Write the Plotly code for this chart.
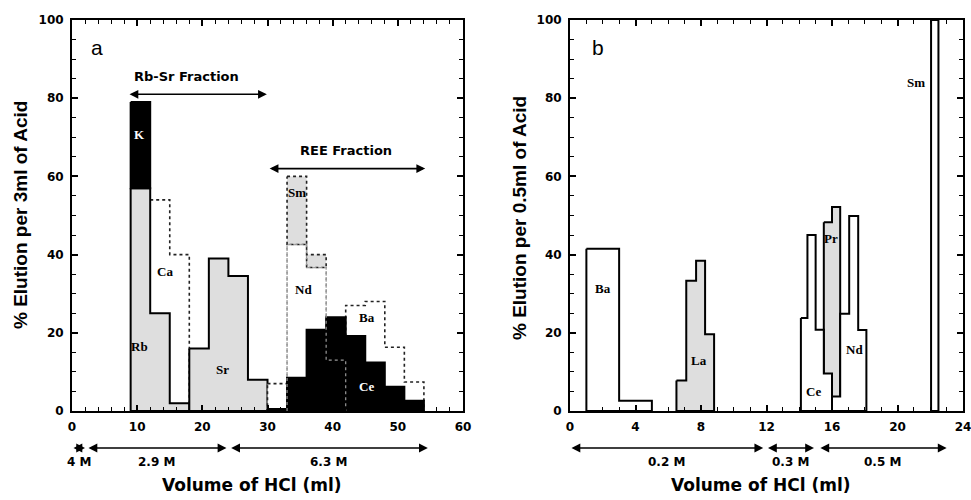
import plotly.graph_objects as go

# ---------------- Panel a: 3 ml fractions ----------------
a_rb_edges = [9, 12, 15, 18]
a_rb_vals = [57, 25, 2]
a_k_edges = [9, 12]
a_k_vals = [22]                 # stacked on Rb
a_ca_edges = [12, 15, 18]
a_ca_vals = [54, 40]
a_sr_edges = [18, 21, 24, 27, 30]
a_sr_vals = [16, 39, 34.5, 8]
a_ba_edges = [30, 33, 36, 39, 42, 45, 48, 51, 54]
a_ba_vals = [7, 0, 0, 0, 27, 28, 16.3, 7.4]
a_nd_edges = [33, 36, 39, 42]
a_nd_vals = [42.6, 36.7, 13]
a_sm_edges = [33, 36, 39]
a_sm_vals = [17.4, 3.3]         # stacked on Nd
a_ce_edges = [30, 33, 36, 39, 42, 45, 48, 51, 54]
a_ce_vals = [0.5, 8.5, 20.8, 24, 19.2, 12.4, 6.2, 2.6]

# ---------------- Panel b: 0.5 ml fractions ----------------
b_ba_edges = [1, 3, 5]
b_ba_vals = [41.5, 2.6]
b_la_edges = [6.5, 7.1, 7.7, 8.25, 8.8]
b_la_vals = [7.8, 33.3, 38.4, 19.6]
b_pr_edges = [15.5, 16.0, 16.5]
b_pr_vals = [48.3, 52.2]
b_ce_edges = [14.1, 14.5, 15.0, 15.5, 16.0]
b_ce_vals = [23.8, 45, 20.8, 9.6]
b_nd_edges = [16.0, 16.5, 17.05, 17.6, 18.1]
b_nd_vals = [3.7, 24.9, 49.9, 20.7]
b_sm_edges = [22.05, 22.5]
b_sm_vals = [100]

# acid steps below each axis: (start, end, label)
a_acids = [(0, 2, "4 M"), (2.3, 23.7, "2.9 M"), (24.2, 54.6, "6.3 M")]
b_acids = [(0, 11.8, "0.2 M"), (12.0, 14.9, "0.3 M"), (15.2, 23.0, "0.5 M")]

GRAY = "#dedede"
SANS = "DejaVu Sans"
ARIAL = "Liberation Sans, Arial"


def step_poly(edges, vals, base=None):
    if base is None:
        base = [0] * len(vals)
    tops = [b + v for b, v in zip(base, vals)]
    xs, ys = [], []
    for i, t in enumerate(tops):
        xs += [edges[i], edges[i + 1]]
        ys += [t, t]
    for i in reversed(range(len(base))):
        xs += [edges[i + 1], edges[i]]
        ys += [base[i], base[i]]
    xs.append(xs[0])
    ys.append(ys[0])
    return xs, ys


def step_outline(edges, vals):
    xs, ys = [edges[0]], [0]
    for i, v in enumerate(vals):
        xs += [edges[i], edges[i + 1]]
        ys += [v, v]
    xs.append(edges[-1])
    ys.append(0)
    return xs, ys


fig = go.Figure()


def add_hist(edges, vals, fill, line_color, dash="solid", width=2, base=None, xa="x", ya="y"):
    xs, ys = step_poly(edges, vals, base)
    fig.add_trace(go.Scatter(
        x=xs, y=ys, mode="lines", fill="toself", fillcolor=fill,
        line=dict(color=line_color, width=width, dash=dash),
        xaxis=xa, yaxis=ya, showlegend=False, hoverinfo="skip"))


# panel a
add_hist(a_ca_edges, a_ca_vals, "white", "#222", dash="dot", width=1.6)
add_hist(a_rb_edges, a_rb_vals, GRAY, "black")
add_hist(a_k_edges, a_k_vals, "black", "black", base=[a_rb_vals[0]])
add_hist(a_sr_edges, a_sr_vals, GRAY, "black")
add_hist(a_ba_edges, a_ba_vals, "white", "#222", dash="dot", width=1.6)
add_hist(a_nd_edges, a_nd_vals, "white", "#888", dash="dot", width=1.4)
add_hist(a_sm_edges, a_sm_vals, GRAY, "#222", dash="dot", width=1.6, base=a_nd_vals[:2])
add_hist(a_ce_edges, a_ce_vals, "black", "black")
nx, ny = step_outline(a_nd_edges, a_nd_vals)
fig.add_trace(go.Scatter(x=nx, y=ny, mode="lines", line=dict(color="#999", width=1.2, dash="dot"),
                         showlegend=False, hoverinfo="skip"))

# panel b
add_hist(b_ba_edges, b_ba_vals, "white", "black", xa="x2", ya="y2")
add_hist(b_la_edges, b_la_vals, GRAY, "black", xa="x2", ya="y2")
add_hist(b_pr_edges, b_pr_vals, GRAY, "black", xa="x2", ya="y2")
add_hist(b_ce_edges, b_ce_vals, "white", "black", xa="x2", ya="y2")
add_hist(b_nd_edges, b_nd_vals, "white", "black", xa="x2", ya="y2")
add_hist(b_sm_edges, b_sm_vals, "white", "black", xa="x2", ya="y2")

W, H = 971, 500
ydom = [(500 - 411) / H, (500 - 20) / H]
tickfont = dict(family=SANS, size=12, color="black", weight="bold")


def axis_common(**kw):
    d = dict(showline=True, linecolor="black", linewidth=2, mirror="allticks",
             ticks="inside", ticklen=6, tickwidth=1.5, tickcolor="black",
             showgrid=False, zeroline=False, tickfont=tickfont, automargin=False,
             ticklabelstandoff=4, ticklabeloverflow="allow")
    d.update(kw)
    return d


def minor(step):
    return dict(ticks="inside", dtick=step, ticklen=4, tickcolor="black", tickwidth=1.2)


fig.update_layout(
    width=W, height=H, margin=dict(l=0, r=0, t=0, b=0),
    paper_bgcolor="white", plot_bgcolor="white", showlegend=False,
    xaxis=axis_common(domain=[72 / W, 463 / W], range=[0, 60], dtick=10, tick0=0, minor=minor(2)),
    yaxis=axis_common(domain=ydom, range=[0, 100], dtick=20, tick0=0, minor=minor(5)),
    xaxis2=axis_common(domain=[570 / W, 963 / W], range=[0, 24], dtick=4, tick0=0, anchor="y2",
                       minor=minor(1)),
    yaxis2=axis_common(domain=ydom, range=[0, 100], dtick=20, tick0=0, anchor="x2", minor=minor(5)),
)

serif = dict(family="Liberation Serif, Times New Roman", size=13, color="black", weight="bold")
serif_w = dict(serif, color="white")
labels_a = [("K", 10.4, 70.8, serif_w), ("Rb", 10.3, 16.5, serif), ("Ca", 14.3, 35.7, serif),
            ("Sr", 23.1, 10.5, serif), ("Sm", 34.6, 55.8, serif), ("Nd", 35.5, 31, serif),
            ("Ba", 45.2, 23.8, serif), ("Ce", 45.2, 6.2, serif_w)]
labels_b = [("Ba", 2.0, 31.3), ("La", 7.9, 13), ("Ce", 14.85, 5), ("Pr", 15.95, 44),
            ("Nd", 17.4, 15.8), ("Sm", 21.1, 84)]

C = dict(xanchor="center", yanchor="middle", showarrow=False)
ann = []
for t, x, y, f in labels_a:
    ann.append(dict(text=t, x=x, y=y, xref="x", yref="y", font=f, **C))
for t, x, y in labels_b:
    ann.append(dict(text=t, x=x, y=y, xref="x2", yref="y2", font=serif, **C))

ann.append(dict(text="a", x=3.8, y=93, xref="x", yref="y",
                font=dict(family=ARIAL, size=21, color="black"), **C))
ann.append(dict(text="b", x=1.7, y=93, xref="x2", yref="y2",
                font=dict(family=ARIAL, size=21, color="black"), **C))

sans_b = dict(family=SANS, color="black", weight="bold")


def double_arrow(x0, x1, y, xref, yref, ayref):
    return dict(text="", x=x1, y=y, ax=x0, ay=y if ayref != "pixel" else 0, xref=xref, yref=yref,
                axref=xref, ayref=ayref, showarrow=True, arrowhead=2, startarrowhead=2,
                arrowside="end+start", arrowsize=1.1, startarrowsize=1.1, arrowwidth=1.6,
                arrowcolor="black", standoff=0, startstandoff=0)


# fraction arrows inside panel a
ann.append(double_arrow(8.6, 29.9, 81, "x", "y", "y"))
ann.append(dict(text="Rb-Sr Fraction", x=17.6, y=85.5, xref="x", yref="y",
                font=dict(sans_b, size=13), **C))
ann.append(double_arrow(30.1, 54.2, 62, "x", "y", "y"))
ann.append(dict(text="REE Fraction", x=42.1, y=66.5, xref="x", yref="y",
                font=dict(sans_b, size=13), **C))

# acid molarity arrows below the axes
y_arrow = (500 - 448) / H
y_mlab = (500 - 462) / H
for x0, x1, t in a_acids:
    ann.append(double_arrow(x0, x1, y_arrow, "x", "paper", "pixel"))
    ann.append(dict(text=t, x=(x0 + x1) / 2, y=y_mlab, xref="x", yref="paper",
                    font=dict(sans_b, size=12), **C))
for x0, x1, t in b_acids:
    ann.append(double_arrow(x0, x1, y_arrow, "x2", "paper", "pixel"))
    ann.append(dict(text=t, x=(x0 + x1) / 2, y=y_mlab, xref="x2", yref="paper",
                    font=dict(sans_b, size=12), **C))

# axis titles
y_xt = (500 - 485) / H
ann.append(dict(text="Volume of HCl (ml)", x=252 / W, y=y_xt, xref="paper", yref="paper",
                font=dict(sans_b, size=17), **C))
ann.append(dict(text="Volume of HCl (ml)", x=761 / W, y=y_xt, xref="paper", yref="paper",
                font=dict(sans_b, size=17), **C))
ann.append(dict(text="% Elution per 3ml of Acid", x=20 / W, y=(500 - 215) / H, xref="paper",
                yref="paper", textangle=-90, font=dict(family=ARIAL, size=19, color="black",
                                                       weight="bold"), **C))
ann.append(dict(text="% Elution per 0.5ml of Acid", x=519 / W, y=(500 - 218) / H, xref="paper",
                yref="paper", textangle=-90, font=dict(family=ARIAL, size=19, color="black",
                                                       weight="bold"), **C))

fig.update_layout(annotations=ann)
fig.write_html("out.html")
